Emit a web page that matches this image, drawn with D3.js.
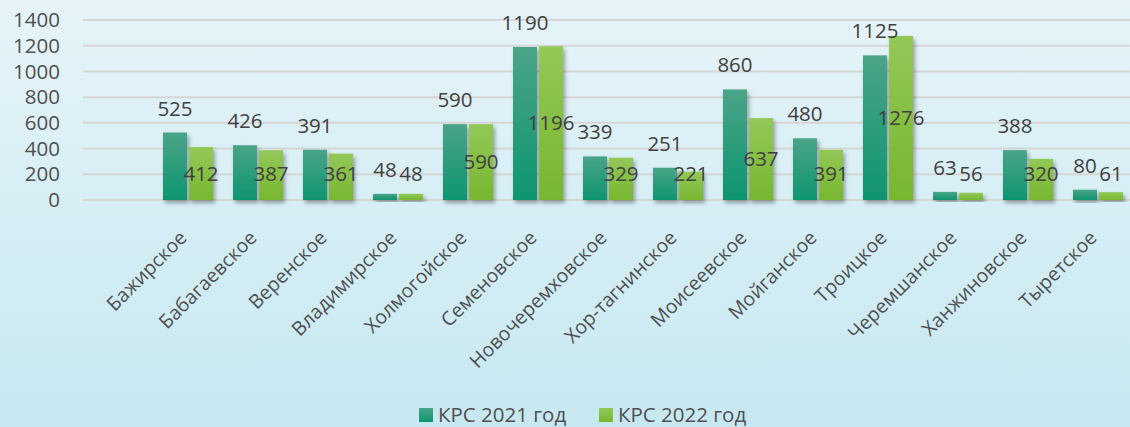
<!DOCTYPE html>
<html>
<head>
<meta charset="utf-8">
<script src="https://cdnjs.cloudflare.com/ajax/libs/d3/7.8.5/d3.min.js"></script>
<style>
  body { margin: 0; }
  #chart { width: 1130px; height: 427px; }
</style>
</head>
<body>
<div id="chart"></div>
<script>
// data
var categories = ["", "Бажирское", "Бабагаевское", "Веренское", "Владимирское", "Холмогойское",
  "Семеновское", "Новочеремховское", "Хор-тагнинское", "Моисеевское", "Мойганское",
  "Троицкое", "Черемшанское", "Ханжиновское", "Тыретское"];
var krs2021 = [null, 525, 426, 391, 48, 590, 1190, 339, 251, 860, 480, 1125, 63, 388, 80];
var krs2022 = [null, 412, 387, 361, 48, 590, 1196, 329, 221, 637, 391, 1276, 56, 320, 61];
var seriesNames = ["КРС 2021 год", "КРС 2022 год"];
var yTicks = [0, 200, 400, 600, 800, 1000, 1200, 1400];

var W = 1130, H = 427;
var plotLeft = 83, plotRight = 1133, plotTop = 20, plotBottom = 200;
var fs = "20.5px";

var svg = d3.select("#chart").append("svg")
    .attr("width", W)
    .attr("height", H)
    .style("font-family", "'Open Sans', sans-serif");

var defs = svg.append("defs");

var bg = defs.append("linearGradient").attr("id", "bg").attr("x1", 0).attr("y1", 0).attr("x2", 0).attr("y2", 1);
bg.append("stop").attr("offset", "0%").attr("stop-color", "#e6f4f9");
bg.append("stop").attr("offset", "100%").attr("stop-color", "#c7e8f1");

var g1 = defs.append("linearGradient").attr("id", "g2021").attr("x1", 0).attr("y1", 0).attr("x2", 0).attr("y2", 1);
g1.append("stop").attr("offset", "0%").attr("stop-color", "#4aa488");
g1.append("stop").attr("offset", "100%").attr("stop-color", "#0e9570");

var g2 = defs.append("linearGradient").attr("id", "g2022").attr("x1", 0).attr("y1", 0).attr("x2", 0).attr("y2", 1);
g2.append("stop").attr("offset", "0%").attr("stop-color", "#93c858");
g2.append("stop").attr("offset", "100%").attr("stop-color", "#77b72f");

var sh = defs.append("filter").attr("id", "shadow")
    .attr("x", "-30%").attr("y", "-10%").attr("width", "160%").attr("height", "130%");
sh.append("feDropShadow").attr("dx", 2).attr("dy", 3).attr("stdDeviation", 2)
    .attr("flood-color", "#000").attr("flood-opacity", 0.35);

svg.append("rect").attr("width", W).attr("height", H).attr("fill", "url(#bg)");

var x = d3.scaleBand().domain(categories).range([plotLeft, plotRight]);
var xs = d3.scaleBand().domain([0, 1]).range([10, 60]).paddingInner(0.08);
var y = d3.scaleLinear().domain([0, 1400]).range([plotBottom, plotTop]);

// gridlines
svg.append("g")
    .selectAll("line")
    .data(yTicks)
    .enter().append("line")
      .attr("x1", plotLeft)
      .attr("x2", W)
      .attr("y1", function(d) { return y(d); })
      .attr("y2", function(d) { return y(d); })
      .attr("stroke", "#d6d6d6")
      .attr("stroke-width", 2);

// y axis labels
svg.append("g")
  .selectAll("text")
  .data(yTicks)
  .enter().append("text")
    .attr("x", 60)
    .attr("y", function(d) { return y(d); })
    .attr("dy", "0.35em")
    .attr("text-anchor", "end")
    .attr("font-size", fs)
    .attr("fill", "#505050")
    .text(function(d) { return d; });

var rows = categories.map(function(c, i) { return {cat: c, v: [krs2021[i], krs2022[i]]}; })
    .filter(function(d) { return d.cat !== ""; });

var groups = svg.append("g").selectAll("g")
    .data(rows)
    .enter().append("g")
      .attr("transform", function(d) { return "translate(" + x(d.cat) + ",0)"; });

groups.selectAll("rect")
    .data(function(d) { return d.v.map(function(v, k) { return {k: k, v: v}; }); })
    .enter().append("rect")
      .attr("x", function(d) { return xs(d.k); })
      .attr("width", xs.bandwidth())
      .attr("y", function(d) { return y(d.v); })
      .attr("height", function(d) { return y(0) - y(d.v); })
      .attr("fill", function(d) { return d.k === 0 ? "url(#g2021)" : "url(#g2022)"; })
      .attr("filter", "url(#shadow)");

// labels 2021: outside end
groups.append("text")
    .attr("x", xs(0) + xs.bandwidth() / 2)
    .attr("y", function(d) { return y(d.v[0]) - 17; })
    .attr("text-anchor", "middle")
    .attr("font-size", fs)
    .attr("fill", "#404040")
    .text(function(d) { return d.v[0]; });

// labels 2022: centered, clamped near the base
groups.append("text")
    .attr("x", xs(1) + xs.bandwidth() / 2)
    .attr("y", function(d) { return Math.min((y(d.v[1]) + y(0)) / 2, 174); })
    .attr("dy", "0.35em")
    .attr("text-anchor", "middle")
    .attr("font-size", fs)
    .attr("fill", "#404040")
    .text(function(d) { return d.v[1]; });

// category labels
svg.append("g")
  .selectAll("text")
  .data(rows)
  .enter().append("text")
    .attr("transform", function(d) {
      return "translate(" + (x(d.cat) + x.bandwidth() / 2) + ",239) rotate(-45)";
    })
    .attr("text-anchor", "end")
    .attr("font-size", "19.5px")
    .attr("fill", "#505050")
    .text(function(d) { return d.cat; });

// legend
var legend = svg.append("g").selectAll("g")
    .data(seriesNames)
    .enter().append("g")
      .attr("transform", function(d, i) { return "translate(" + (419 + i * 180) + ",408)"; });

legend.append("rect")
    .attr("width", 14)
    .attr("height", 14)
    .attr("fill", function(d, i) { return i === 0 ? "url(#g2021)" : "url(#g2022)"; });

legend.append("text")
    .attr("x", 19)
    .attr("y", 14)
    .attr("font-size", fs)
    .attr("fill", "#505050")
    .text(function(d) { return d; });
</script>
</body>
</html>
